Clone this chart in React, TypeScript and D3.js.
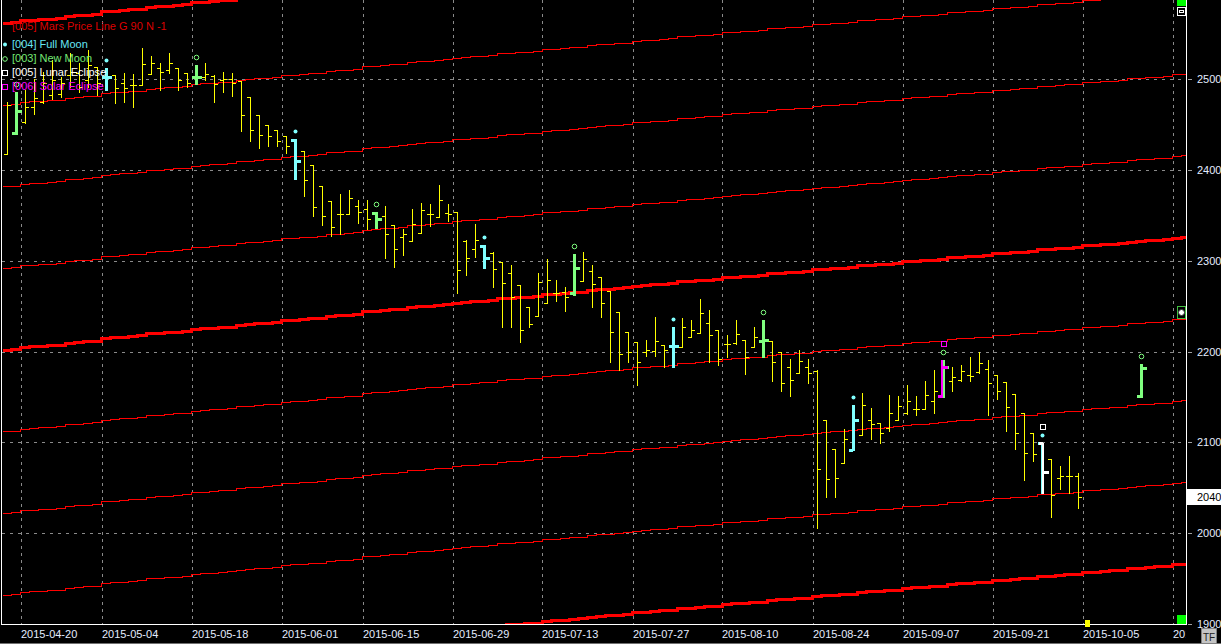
import React from 'react';
import * as d3 from 'd3';

const WIDTH = 1221;
const HEIGHT = 644;
const LEFT = 2;
const RIGHT = 1186;
const BOTTOM = 624;

// daily bars, 2015-04-16 .. 2015-10-02
const opens = [
  2418, 2441, 2453, 2470, 2475, 2483, 2484, 2505, 2507, 2499,
  2514, 2503, 2505, 2496, 2494, 2494, 2506, 2512, 2510, 2513,
  2507, 2503, 2503, 2504, 2499, 2500, 2498, 2480, 2461, 2450,
  2444, 2438, 2433, 2421, 2405, 2382, 2366, 2352, 2351, 2360,
  2357, 2353, 2349, 2339, 2326, 2322, 2331, 2352, 2348, 2353,
  2354, 2322, 2313, 2316, 2309, 2299, 2287, 2273, 2249, 2239,
  2253, 2265, 2266, 2264, 2278, 2289, 2282, 2267, 2244, 2221,
  2210, 2199, 2201, 2207, 2206, 2205, 2216, 2220, 2231, 2224,
  2208, 2209, 2213, 2205, 2212, 2212, 2200, 2183, 2176, 2183,
  2179, 2125, 2092, 2077, 2091, 2108, 2124, 2121, 2116, 2124,
  2132, 2137, 2137, 2145, 2151, 2167, 2169, 2174, 2177, 2181,
  2174, 2166, 2153, 2132, 2110, 2099, 2082, 2061, 2063, 2063,
];
const highs = [
  2475, 2486, 2488, 2500, 2508, 2521, 2503, 2529, 2518, 2532,
  2514, 2512, 2505, 2507, 2506, 2534, 2526, 2518, 2529, 2513,
  2507, 2516, 2518, 2505, 2508, 2507, 2498, 2480, 2461, 2450,
  2444, 2438, 2434, 2421, 2405, 2382, 2366, 2374, 2378, 2367,
  2367, 2354, 2360, 2339, 2335, 2357, 2364, 2363, 2384, 2363,
  2354, 2323, 2341, 2317, 2310, 2299, 2295, 2273, 2249, 2286,
  2302, 2279, 2271, 2308, 2310, 2295, 2282, 2267, 2244, 2221,
  2210, 2213, 2238, 2207, 2227, 2237, 2235, 2258, 2246, 2224,
  2218, 2235, 2213, 2227, 2235, 2212, 2200, 2192, 2202, 2192,
  2180, 2125, 2092, 2115, 2141, 2154, 2138, 2121, 2152, 2151,
  2163, 2151, 2167, 2180, 2191, 2183, 2185, 2194, 2199, 2191,
  2174, 2166, 2153, 2132, 2110, 2099, 2082, 2074, 2085, 2066,
];
const lows = [
  2418, 2440, 2452, 2462, 2474, 2478, 2480, 2492, 2486, 2492,
  2483, 2488, 2474, 2475, 2470, 2494, 2506, 2488, 2507, 2488,
  2492, 2495, 2499, 2475, 2486, 2482, 2443, 2432, 2424, 2427,
  2427, 2419, 2390, 2371, 2349, 2339, 2327, 2330, 2351, 2342,
  2335, 2336, 2303, 2293, 2306, 2322, 2331, 2338, 2348, 2344,
  2265, 2284, 2304, 2292, 2271, 2227, 2227, 2211, 2227, 2239,
  2253, 2256, 2245, 2262, 2278, 2249, 2238, 2188, 2180, 2188,
  2163, 2195, 2195, 2183, 2183, 2205, 2216, 2220, 2188, 2185,
  2194, 2208, 2175, 2205, 2194, 2167, 2157, 2151, 2176, 2165,
  2005, 2040, 2040, 2077, 2091, 2108, 2104, 2099, 2112, 2124,
  2131, 2130, 2137, 2132, 2150, 2156, 2168, 2168, 2176, 2130,
  2148, 2112, 2093, 2058, 2079, 2044, 2018, 2049, 2044, 2027,
];
const closes = [
  2472, 2465, 2469, 2479, 2496, 2499, 2496, 2508, 2492, 2516,
  2496, 2503, 2490, 2490, 2494, 2517, 2518, 2508, 2518, 2499,
  2496, 2503, 2506, 2495, 2500, 2496, 2461, 2444, 2439, 2438,
  2432, 2427, 2410, 2389, 2359, 2349, 2337, 2352, 2369, 2354,
  2346, 2346, 2330, 2313, 2329, 2341, 2356, 2352, 2367, 2352,
  2290, 2303, 2323, 2303, 2291, 2275, 2260, 2224, 2230, 2277,
  2279, 2265, 2260, 2292, 2302, 2274, 2253, 2222, 2197, 2200,
  2188, 2202, 2212, 2202, 2206, 2227, 2224, 2242, 2218, 2192,
  2208, 2219, 2194, 2216, 2213, 2188, 2165, 2169, 2189, 2176,
  2071, 2060, 2061, 2104, 2125, 2141, 2120, 2110, 2132, 2140,
  2145, 2137, 2152, 2156, 2183, 2172, 2178, 2173, 2187, 2165,
  2157, 2139, 2110, 2088, 2087, 2067, 2042, 2063, 2063, 2040,
];

// Mars longitude (deg) for every bar slot, 2015-04-16 .. 2015-10-20
const marsLon = [
  41.4, 42.1, 44.3, 45.0, 45.7, 46.4, 47.1, 49.3, 50.0, 50.7,
  51.4, 54.3, 55.0, 55.7, 56.4, 57.1, 59.3, 60.0, 60.7, 61.4,
  62.1, 64.2, 64.9, 65.6, 66.3, 67.0, 69.1, 69.8, 70.5, 71.2,
  71.9, 74.0, 74.7, 75.3, 76.0, 76.7, 78.8, 79.5, 80.2, 80.9,
  83.7, 84.4, 85.1, 85.8, 86.5, 88.6, 89.3, 90.0, 90.7, 91.3,
  93.3, 94.0, 94.7, 95.3, 96.0, 98.0, 98.7, 99.3, 100.0, 100.7,
  102.7, 103.3, 104.0, 104.7, 105.3, 107.3, 108.0, 108.7, 109.3, 110.0,
  112.0, 112.7, 113.3, 114.0, 114.7, 116.7, 117.3, 118.0, 118.7, 119.3,
  121.3, 121.9, 122.5, 123.1, 123.8, 125.6, 126.3, 126.9, 127.5, 128.1,
  130.0, 130.6, 131.3, 131.9, 132.5, 134.4, 135.0, 135.6, 136.3, 136.9,
  138.8, 139.4, 140.0, 140.6, 141.3, 143.1, 143.8, 144.4, 145.0, 145.6,
  147.5, 148.1, 148.8, 149.4, 150.0, 151.9, 152.5, 153.1, 153.8, 154.4,
  156.3, 156.9, 157.5, 158.1, 158.8, 160.6, 161.3, 161.9, 162.5, 163.1,
  165.0, 165.6,
];
const gannStep = 90;
const gannHarmonics = [20, 21, 22, 23, 24, 25, 26, 27, 28];

const dateTickBars = [2, 11, 21, 31, 40, 50, 60, 70, 80, 90, 100, 110, 120, 130];
const dateTickLabels = [
  '2015-04-20', '2015-05-04', '2015-05-18', '2015-06-01', '2015-06-15',
  '2015-06-29', '2015-07-13', '2015-07-27', '2015-08-10', '2015-08-24',
  '2015-09-07', '2015-09-21', '2015-10-05', '2015-10-19',
];
const priceTicks = [1900, 2000, 2100, 2200, 2300, 2400, 2500];
const gridPrices = [2000, 2100, 2200, 2300, 2400, 2500];

const fullMoonBars = [11, 32, 53, 74, 94, 115];
const newMoonBars = [1, 21, 41, 63, 84, 104];
const lunarEclipseBars = [115];
const solarEclipseBars = [104];

// next new moon, drawn ahead of the data
const nextMoonBar = [126];
const nextMoonOpen = [2151];
const nextMoonHigh = [2186];
const nextMoonLow = [2150];
const nextMoonClose = [2182];

const todayBar = 120;
const lastPrice = 2040;

const YELLOW = '#ffff00';
const CYAN = '#80ffff';
const GREEN = '#80ff80';
const MAGENTA = '#ff00ff';
const GRID = '#8a8a8a';
const AXIS_TEXT = '#e4ecff';
const FONT = '"Liberation Sans", Arial, sans-serif';

const App = () => {
  const x = d3.scaleLinear().domain([0, 131]).range([7, 1186]);
  const y = d3.scaleLinear().domain([1900, 2500]).range([623.7, 79.3]);
  const col = (i: number) => Math.round(x(i));
  const row = (v: number) => Math.round(y(v));

  const gannLine = d3
    .line<[number, number]>()
    .x(d => d[0])
    .y(d => d[1])
    .curve(d3.curveStepAfter);

  const gannPath = (k: number) => {
    const pts: [number, number][] = marsLon.map((m, i) => [x(i - 0.5), y(m + gannStep * k)]);
    pts.push([x(131.5), y(marsLon[marsLon.length - 1] + gannStep * k)]);
    return gannLine(pts) || '';
  };

  const plainBar = (i: number) => {
    const c = col(i);
    const d =
      `M${c + 0.5},${row(highs[i])}V${row(lows[i]) + 1}` +
      `M${c - 3},${row(opens[i]) + 0.5}H${c + 1}` +
      `M${c},${row(closes[i]) + 0.5}H${c + 4}`;
    return <path key={`b${i}`} d={d} stroke={YELLOW} strokeWidth={1} fill="none" />;
  };

  const thickBar = (key: string, i: number, o: number, h: number, l: number, cl: number, color: string, w = 3, dx = 0) => {
    const c = col(i) + dx;
    const half = Math.floor(w / 2);
    return (
      <g key={key} fill={color}>
        <rect x={c - half} y={row(h)} width={w} height={row(l) - row(h) + 1} />
        <rect x={c - 4} y={row(o) - 1} width={4} height={3} />
        <rect x={c + 1} y={row(cl) - 1} width={5} height={3} />
      </g>
    );
  };

  const specialBars = new Set([...fullMoonBars, ...newMoonBars]);

  return (
    <div style={{ width: WIDTH, height: HEIGHT, background: '#000' }}>
      <style>{'body{margin:0;background:#000;}'}</style>
      <svg width={WIDTH} height={HEIGHT} style={{ display: 'block' }} fontFamily={FONT}>
        <defs>
          <clipPath id="plot-clip">
            <rect x={LEFT} y={0} width={RIGHT - LEFT} height={BOTTOM} />
          </clipPath>
          <clipPath id="date-clip">
            <rect x={0} y={BOTTOM} width={RIGHT} height={HEIGHT - BOTTOM} />
          </clipPath>
        </defs>
        <rect x={0} y={0} width={WIDTH} height={HEIGHT} fill="#000" />

        {/* grid */}
        <g shapeRendering="crispEdges" stroke={GRID} strokeWidth={1}>
          {gridPrices.map(p => (
            <line key={`h${p}`} x1={LEFT} x2={RIGHT} y1={row(p) + 0.5} y2={row(p) + 0.5} strokeDasharray="3,5" />
          ))}
          {dateTickBars.map(b => (
            <line key={`v${b}`} x1={col(b - 0.5) + 0.5} x2={col(b - 0.5) + 0.5} y1={0} y2={BOTTOM} strokeDasharray="3,4" />
          ))}
        </g>

        {/* Mars price lines */}
        <g clipPath="url(#plot-clip)" fill="none" stroke="#ff0000" shapeRendering="crispEdges">
          {gannHarmonics.map(k => (
            <path key={`g${k}`} d={gannPath(k)} strokeWidth={k % 4 === 0 ? 3 : 1} />
          ))}
        </g>

        {/* price bars */}
        <g shapeRendering="crispEdges">
          {opens.map((_, i) => (specialBars.has(i) ? null : plainBar(i)))}
          {newMoonBars.map(i => thickBar(`n${i}`, i, opens[i], highs[i], lows[i], closes[i], GREEN))}
          {fullMoonBars.map(i => thickBar(`f${i}`, i, opens[i], highs[i], lows[i], closes[i], CYAN))}
          {solarEclipseBars.map(i => thickBar(`s${i}`, i, opens[i], highs[i], lows[i], closes[i], MAGENTA, 2, -1))}
          {lunarEclipseBars.map(i => thickBar(`l${i}`, i, opens[i], highs[i], lows[i], closes[i], '#ffffff', 2, 1))}
          {nextMoonBar.map((b, j) =>
            thickBar(`m${b}`, b, nextMoonOpen[j], nextMoonHigh[j], nextMoonLow[j], nextMoonClose[j], GREEN)
          )}
        </g>

        {/* event markers */}
        <g>
          {fullMoonBars.map(i => (
            <circle key={`fd${i}`} cx={col(i) + 0.5} cy={row(highs[i]) - 7.5} r={2} fill={CYAN} />
          ))}
          {newMoonBars.map(i => (
            <circle key={`nd${i}`} cx={col(i) + 0.5} cy={row(highs[i]) - 7.5} r={2.3} fill="none" stroke={GREEN} strokeWidth={1} />
          ))}
          {nextMoonBar.map((b, j) => (
            <circle key={`md${b}`} cx={col(b) + 0.5} cy={row(nextMoonHigh[j]) - 7.5} r={2.3} fill="none" stroke={GREEN} strokeWidth={1} />
          ))}
          {lunarEclipseBars.map(i => (
            <rect key={`ld${i}`} x={col(i) - 2} y={row(highs[i]) - 18.5} width={5} height={5} fill="none" stroke="#ffffff" strokeWidth={1} shapeRendering="crispEdges" />
          ))}
          {solarEclipseBars.map(i => (
            <rect key={`sd${i}`} x={col(i) - 2} y={row(highs[i]) - 18.5} width={5} height={5} fill="none" stroke={MAGENTA} strokeWidth={1} shapeRendering="crispEdges" />
          ))}
        </g>

        {/* legend */}
        <g fontSize={11}>
          <text x={12} y={30} fill="#dd0000">[005] Mars Price Line G 90 N -1</text>
          <circle cx={5} cy={44.5} r={2} fill={CYAN} />
          <text x={12} y={48} fill="#66e6f4">[004] Full Moon</text>
          <circle cx={5} cy={59} r={2.3} fill="none" stroke={GREEN} />
          <text x={12} y={62} fill="#74e874">[003] New Moon</text>
          <rect x={2.5} y={70.5} width={5} height={5} fill="none" stroke="#ffffff" />
          <text x={12} y={76} fill="#ffffff">[005] Lunar Eclipse</text>
          <rect x={2.5} y={84.5} width={5} height={5} fill="none" stroke={MAGENTA} />
          <text x={12} y={90} fill={MAGENTA}>[006] Solar Eclipse</text>
        </g>

        {/* frame */}
        <g shapeRendering="crispEdges" stroke="#ffffff" strokeWidth={1}>
          <line x1={LEFT - 0.5} x2={LEFT - 0.5} y1={0} y2={BOTTOM + 1} />
          <line x1={RIGHT + 0.5} x2={RIGHT + 0.5} y1={0} y2={BOTTOM + 1} />
          <line x1={LEFT - 1} x2={RIGHT + 1} y1={BOTTOM + 0.5} y2={BOTTOM + 0.5} />
        </g>
        <line x1={0} x2={WIDTH} y1={643.5} y2={643.5} stroke="#707070" shapeRendering="crispEdges" />

        {/* today marker on the time axis */}
        <rect x={col(todayBar) - 2} y={BOTTOM - 4} width={5} height={7} fill={YELLOW} />

        {/* date axis */}
        <g clipPath="url(#date-clip)" fontSize={11} fill={AXIS_TEXT}>
          {dateTickBars.map((b, j) => (
            <text key={`d${b}`} x={col(b - 0.5)} y={638}>{dateTickLabels[j]}</text>
          ))}
        </g>

        {/* price axis */}
        <g fontSize={11}>
          {priceTicks.map(p => (
            <g key={`p${p}`}>
              <line x1={1188} x2={1192} y1={row(p) + 0.5} y2={row(p) + 0.5} stroke="#a0a0a0" shapeRendering="crispEdges" />
              <text x={1197} y={row(p) + 3.5} fill={AXIS_TEXT}>{p}</text>
            </g>
          ))}
          <rect x={1187} y={row(lastPrice) - 8} width={34} height={16} fill="#ffffff" />
          <text x={1197} y={row(lastPrice) + 4} fill="#000">{lastPrice}</text>
        </g>

        {/* right-edge widgets */}
        <g shapeRendering="crispEdges">
          <rect x={1177} y={0} width={9} height={6} fill="#00ff00" />
          <rect x={1177.5} y={7.5} width={8} height={8} fill="#000" stroke="#ffffff" />
          <rect x={1179.5} y={10.5} width={4} height={2} fill="none" stroke="#ffffff" />
          <rect x={1177.5} y={306.5} width={8} height={12} fill="#000" stroke="#40c040" />
          <rect x={1177} y={615} width={9} height={9} fill="#00ff00" />
        </g>
        <circle cx={1181.5} cy={312.5} r={3} fill="#ffffff" stroke="#303030" />
        <rect x={1201.5} y={628.5} width={15} height={15} fill="#c4c4c4" stroke="#808080" shapeRendering="crispEdges" />
        <text x={1209} y={640.5} fontSize={10} textAnchor="middle" fill="#202020">TF</text>
      </svg>
    </div>
  );
};

export default App;
